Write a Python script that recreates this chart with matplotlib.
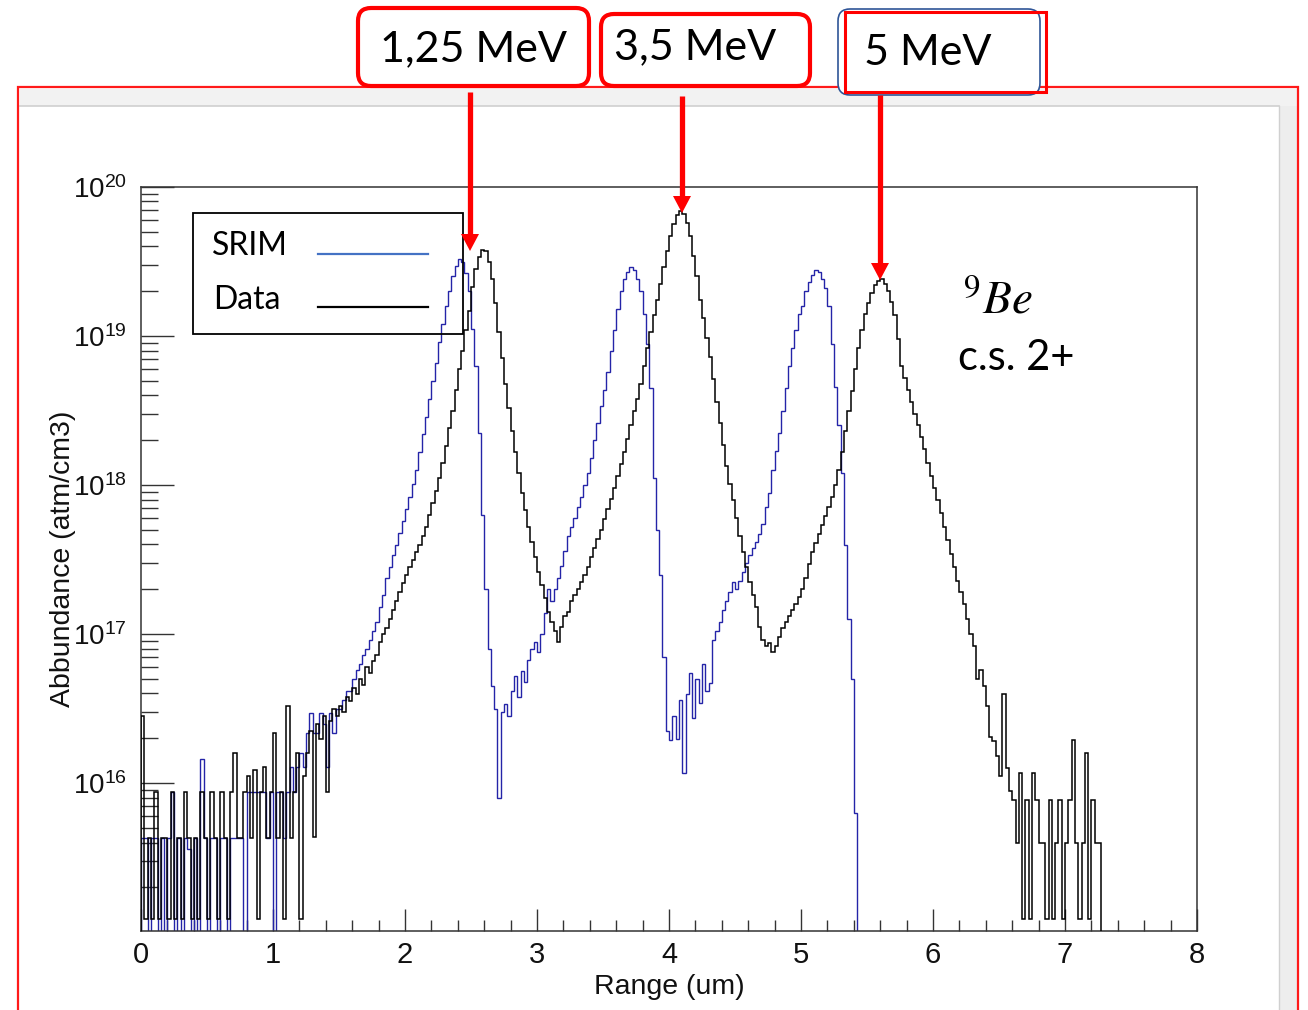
import numpy as np
import matplotlib
matplotlib.use('Agg')
import matplotlib.pyplot as plt
from matplotlib.patches import Rectangle, FancyBboxPatch, Polygon
from matplotlib.lines import Line2D
from matplotlib.ticker import FixedLocator, FixedFormatter, NullFormatter, MultipleLocator
from matplotlib.transforms import IdentityTransform

plt.rcParams['font.family'] = ['Liberation Sans', 'DejaVu Sans']
plt.rcParams['mathtext.fontset'] = 'custom'
plt.rcParams['mathtext.rm'] = 'Liberation Sans'
plt.rcParams['mathtext.it'] = 'Liberation Sans:italic'
plt.rcParams['mathtext.bf'] = 'Liberation Sans:bold'

W, H = 1308, 1010

# ---------------- data (log10 of abundance, 0 = empty bin) ----------------
BIN_WIDTH = 0.025  # um

data_log = [
    16.45, 15.09, 15.63, 15.09, 15.94, 15.09, 15.63, 15.63, 15.09, 15.94,
    15.09, 15.63, 15.09, 15.94, 15.63, 15.09, 15.63, 15.09, 15.94, 15.63,
    15.09, 15.94, 15.63, 15.09, 15.94, 15.63, 15.09, 15.94, 16.20, 15.63,
    15.63, 15.94, 16.05, 15.63, 16.09, 15.09, 15.94, 16.11, 15.63, 15.94,
    16.34, 15.63, 15.94, 15.09, 16.52, 15.63, 15.94, 16.20, 15.09, 16.05,
    16.20, 16.35, 15.64, 16.40, 16.30, 16.45, 15.94, 16.42, 16.50, 16.45,
    16.52, 16.48, 16.58, 16.55, 16.64, 16.60, 16.70, 16.66, 16.78, 16.74,
    16.82, 16.86, 16.95, 17.00, 17.04, 17.10, 17.16, 17.22, 17.28, 17.34,
    17.40, 17.45, 17.50, 17.55, 17.60, 17.66, 17.72, 17.80, 17.88, 17.96,
    18.05, 18.15, 18.26, 18.38, 18.50, 18.64, 18.78, 18.90, 19.04, 19.17,
    19.33, 19.45, 19.53, 19.58, 19.57, 19.50, 19.38, 19.22, 19.03, 18.85,
    18.68, 18.52, 18.36, 18.22, 18.08, 17.95, 17.83, 17.72, 17.62, 17.52,
    17.42, 17.33, 17.24, 17.15, 17.08, 17.02, 16.95, 17.05, 17.12, 17.15,
    17.22, 17.26, 17.30, 17.35, 17.40, 17.45, 17.52, 17.58, 17.64, 17.70,
    17.77, 17.84, 17.91, 17.98, 18.06, 18.14, 18.22, 18.31, 18.40, 18.50,
    18.58, 18.68, 18.80, 18.92, 19.03, 19.14, 19.24, 19.35, 19.46, 19.57,
    19.67, 19.75, 19.81, 19.84, 19.82, 19.76, 19.67, 19.54, 19.40, 19.24,
    19.12, 18.99, 18.86, 18.71, 18.56, 18.42, 18.27, 18.13, 18.01, 17.90,
    17.78, 17.66, 17.55, 17.45, 17.35, 17.26, 17.18, 17.05, 16.96, 16.92,
    16.94, 16.88, 16.92, 16.98, 17.04, 17.08, 17.12, 17.16, 17.20, 17.25,
    17.30, 17.38, 17.47, 17.55, 17.61, 17.67, 17.73, 17.79, 17.85, 17.92,
    18.00, 18.10, 18.22, 18.36, 18.50, 18.63, 18.78, 18.92, 19.04, 19.15,
    19.22, 19.29, 19.34, 19.37, 19.38, 19.35, 19.30, 19.23, 19.14, 18.98,
    18.80, 18.72, 18.64, 18.56, 18.48, 18.40, 18.32, 18.24, 18.15, 18.06,
    17.98, 17.90, 17.81, 17.72, 17.63, 17.54, 17.45, 17.36, 17.28, 17.20,
    17.10, 17.00, 16.92, 16.70, 16.76, 16.65, 16.52, 16.31, 16.28, 16.18,
    16.05, 16.60, 16.10, 15.95, 15.89, 15.60, 16.07, 15.09, 15.89, 15.09,
    16.07, 15.89, 15.60, 15.60, 15.09, 15.89, 15.09, 15.60, 15.89, 15.09,
    15.60, 15.89, 16.29, 15.60, 15.09, 15.60, 16.20, 15.09, 15.89, 15.60,
    15.60,
]

srim_log = [
    15.63, 15.63, 0, 15.63, 15.63, 0, 15.63, 0, 15.63, 15.94,
    0, 15.63, 0, 15.63, 15.56, 0, 15.63, 0, 16.16, 15.63,
    0, 15.63, 15.63, 0, 15.63, 15.63, 0, 15.63, 15.63, 15.63,
    15.63, 0, 15.94, 15.94, 15.94, 15.94, 15.94, 15.94, 15.63, 15.94,
    0, 15.94, 15.94, 15.63, 15.94, 16.11, 15.94, 16.11, 16.20, 16.11,
    16.34, 16.47, 16.34, 16.34, 16.47, 16.40, 16.11, 16.47, 16.34, 16.50,
    16.50, 16.56, 16.62, 16.62, 16.70, 16.76, 16.80, 16.86, 16.90, 16.96,
    17.02, 17.08, 17.18, 17.26, 17.38, 17.45, 17.53, 17.60, 17.68, 17.76,
    17.84, 17.92, 18.01, 18.10, 18.22, 18.34, 18.46, 18.58, 18.70, 18.82,
    18.96, 19.08, 19.20, 19.30, 19.40, 19.47, 19.52, 19.50, 19.42, 19.30,
    19.05, 18.80, 18.35, 17.80, 17.30, 16.90, 16.65, 16.50, 15.90, 16.48,
    16.53, 16.45, 16.62, 16.72, 16.58, 16.75, 16.68, 16.83, 16.90, 16.95,
    16.88, 17.00, 17.14, 17.30, 17.22, 17.30, 17.38, 17.46, 17.56, 17.66,
    17.72, 17.78, 17.85, 17.92, 18.00, 18.08, 18.18, 18.30, 18.42, 18.53,
    18.64, 18.76, 18.90, 19.04, 19.18, 19.30, 19.38, 19.43, 19.46, 19.44,
    19.38, 19.30, 19.15, 18.95, 18.65, 18.05, 17.70, 17.40, 16.85, 16.35,
    16.29, 16.45, 16.30, 16.56, 16.07, 16.60, 16.74, 16.44, 16.70, 16.54,
    16.80, 16.62, 16.67, 16.96, 17.02, 17.08, 17.16, 17.22, 17.28, 17.35,
    17.30, 17.36, 17.42, 17.48, 17.53, 17.58, 17.62, 17.67, 17.74, 17.85,
    17.95, 18.10, 18.23, 18.35, 18.50, 18.65, 18.80, 18.92, 19.04, 19.15,
    19.20, 19.30, 19.36, 19.41, 19.44, 19.43, 19.38, 19.32, 19.20, 18.95,
    18.66, 18.40, 18.08, 17.60, 17.10, 16.70, 15.80, 0,
]

x_major = [0, 1, 2, 3, 4, 5, 6, 7, 8]
x_tick_labels = ['0', '1', '2', '3', '4', '5', '6', '7', '8']
y_major = [1e16, 1e17, 1e18, 1e19, 1e20]
y_tick_labels = [r'$10^{16}$', r'$10^{17}$', r'$10^{18}$', r'$10^{19}$', r'$10^{20}$']
legend_labels = ['SRIM', 'Data']
energy_labels = ['1,25 MeV', '3,5 MeV', '5 MeV']
EMPTY = 1e12


def to_lin(logs):
    a = np.array(logs, dtype=float)
    return np.where(a > 0, 10.0 ** a, EMPTY)


# ---------------- figure ----------------
fig = plt.figure(figsize=(W / 100, H / 100), dpi=100)
fig.patch.set_facecolor('white')
ID = IdentityTransform()


def P(x, y):
    return (x, H - y)


# canvas window decoration
fig.add_artist(Rectangle(P(20, 106), 1277, 17, transform=ID, fc='#f2f2f2', ec='none', zorder=0.5))
fig.add_artist(Rectangle(P(1279, 1012), 18, 906, transform=ID, fc='#ededed', ec='none', zorder=0.5))
fig.add_artist(Line2D([20, 1279], [H - 106, H - 106], transform=ID, color='#d0d0d0', lw=1.2, zorder=0.6))
fig.add_artist(Line2D([1279, 1279], [H - 106, 0], transform=ID, color='#d0d0d0', lw=1.0, zorder=0.6))
fig.add_artist(Rectangle(P(18, 1015), 1280, 928, transform=ID, fc='none', ec='#ff1a1a', lw=1.6, zorder=0.7))

ax = fig.add_axes([141 / W, 1 - 931 / H, (1197 - 141) / W, (931 - 187) / H])
ax.set_facecolor('white')

edges_d = np.arange(len(data_log) + 1) * BIN_WIDTH
edges_s = np.arange(len(srim_log) + 1) * BIN_WIDTH
ax.stairs(to_lin(srim_log), edges_s, baseline=EMPTY, fill=False, color='#2424a8', lw=1.0, zorder=2)
ax.stairs(to_lin(data_log), edges_d, baseline=EMPTY, fill=False, color='#000000', lw=1.1, zorder=3)

ax.set_yscale('log')
ax.set_xlim(0, 8)
ax.set_ylim(1.02e15, 1e20)

ax.yaxis.set_major_locator(FixedLocator(y_major))
ax.yaxis.set_major_formatter(FixedFormatter(y_tick_labels))
ax.yaxis.set_minor_locator(FixedLocator([m * 10.0 ** e for e in range(15, 20) for m in range(2, 10)]))
ax.yaxis.set_minor_formatter(NullFormatter())
ax.xaxis.set_major_locator(FixedLocator(x_major))
ax.xaxis.set_major_formatter(FixedFormatter(x_tick_labels))
ax.xaxis.set_minor_locator(MultipleLocator(0.2))

tc = '#333333'
ax.tick_params(axis='y', which='major', direction='in', length=24, width=1.0, color=tc,
               left=True, right=False, pad=10, labelsize=20, labelcolor='#111111')
ax.tick_params(axis='y', which='minor', direction='in', length=12, width=1.0, color=tc,
               left=True, right=False)
ax.tick_params(axis='x', which='major', direction='in', length=16, width=1.0, color=tc,
               bottom=True, top=False, pad=7, labelsize=21, labelcolor='#111111')
ax.tick_params(axis='x', which='minor', direction='in', length=8, width=1.0, color=tc,
               bottom=True, top=False)
for s in ax.spines.values():
    s.set_color('#333333')
    s.set_linewidth(1.1)

ax.set_xlabel('Range (um)', fontsize=20.5, color='#111111', labelpad=4)
ax.set_ylabel('Abbundance (atm/cm3)', fontsize=20.5, color='#111111', labelpad=-2)

# legend box (drawn by hand, transparent)
fig.add_artist(Rectangle(P(193, 334), 270, 121, transform=ID, fc='none', ec='black', lw=1.3, zorder=5))
fig.text(212 / W, 1 - 246 / H, legend_labels[0], family='Lato', fontsize=23, va='center', ha='left', color='black')
fig.text(213 / W, 1 - 300 / H, legend_labels[1], family='Lato', fontsize=23, va='center', ha='left', color='black')
fig.add_artist(Line2D([318, 428], [H - 254, H - 254], transform=ID, color='#4472c4', lw=1.6, zorder=5))
fig.add_artist(Line2D([318, 428], [H - 307, H - 307], transform=ID, color='black', lw=1.6, zorder=5))

# energy boxes
fig.add_artist(FancyBboxPatch(P(358, 86), 231, 78, boxstyle='round,pad=0,rounding_size=13',
                              transform=ID, fc='white', ec='#ff0000', lw=3.0, zorder=6))
fig.add_artist(FancyBboxPatch(P(601, 86), 209, 72, boxstyle='round,pad=0,rounding_size=13',
                              transform=ID, fc='white', ec='#ff0000', lw=3.0, zorder=6))
fig.add_artist(FancyBboxPatch(P(838, 95), 202, 86, boxstyle='round,pad=0,rounding_size=12',
                              transform=ID, fc='white', ec='#2f5597', lw=1.2, zorder=6))
fig.add_artist(Rectangle(P(845, 92), 201, 80, transform=ID, fc='none', ec='#ff0000', lw=2.2, zorder=6.5))

fig.text(473 / W, 1 - 49 / H, energy_labels[0], family='Lato', fontsize=31, ha='center', va='center', color='black', zorder=7)
fig.text(695 / W, 1 - 47 / H, energy_labels[1], family='Lato', fontsize=31, ha='center', va='center', color='black', zorder=7)
fig.text(928 / W, 1 - 53 / H, energy_labels[2], family='Lato', fontsize=31, ha='center', va='center', color='black', zorder=7)

# arrows
for xa, y0, y1 in [(470, 92, 251), (682, 96, 213), (880, 95, 280)]:
    fig.add_artist(Line2D([xa, xa], [H - y0, H - (y1 - 16)], transform=ID, color='#ff0000',
                          lw=3.8, solid_capstyle='butt', zorder=8))
    fig.add_artist(Polygon([P(xa - 9, y1 - 17), P(xa + 9, y1 - 17), P(xa, y1)], closed=True,
                           transform=ID, fc='#ff0000', ec='none', zorder=8))

# isotope annotation
fig.text(963 / W, 1 - 313 / H, r'$^{9}Be$', math_fontfamily='stix', fontsize=34, ha='left', va='baseline', color='black')
fig.text(958 / W, 1 - 370 / H, 'c.s. 2+', family='Lato', fontsize=30, ha='left', va='baseline', color='black')

fig.savefig('out.png', dpi=100)
